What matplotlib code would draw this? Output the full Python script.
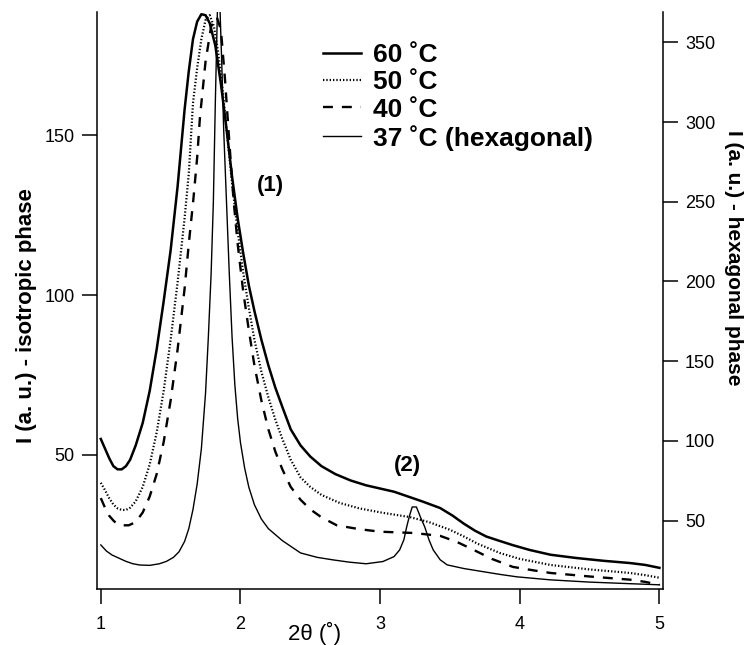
import numpy as np
import matplotlib
matplotlib.use('Agg')
import matplotlib.pyplot as plt

plt.rcParams['font.family'] = ['Liberation Sans', 'DejaVu Sans']

# 60 C, isotropic (left axis)
x60 = [1.00, 1.03, 1.06, 1.09, 1.12, 1.15, 1.18, 1.21, 1.25, 1.30, 1.35, 1.40,
       1.45, 1.50, 1.55, 1.60, 1.63, 1.66, 1.69, 1.72, 1.75, 1.78, 1.82, 1.86,
       1.90, 1.94, 1.98, 2.02, 2.06, 2.10, 2.15, 2.20, 2.25, 2.30, 2.36, 2.43,
       2.50, 2.58, 2.68, 2.79, 2.90, 3.00, 3.10, 3.20, 3.30, 3.43, 3.52, 3.60,
       3.68, 3.76, 3.85, 3.95, 4.07, 4.22, 4.40, 4.60, 4.79, 4.90, 5.00]
y60 = [55, 52, 49, 46.5, 45.5, 45.5, 46.5, 48.5, 53, 60, 70, 83,
       98, 114, 134, 158, 170, 180, 185.5, 187.8, 187.5, 185, 178, 166,
       152, 137, 124, 113, 103, 95, 86, 78, 71, 65, 58, 53,
       49.5, 46.5, 44, 42, 40.5, 39.5, 38.5, 37, 35.5, 33.4, 31, 28.5,
       26.3, 24.5, 23.2, 21.8, 20.3, 18.8, 17.8, 16.9, 16.2, 15.6, 14.7]

# 50 C, isotropic (left axis)
x50 = [1.00, 1.03, 1.06, 1.09, 1.12, 1.15, 1.18, 1.21, 1.25, 1.30, 1.35, 1.40,
       1.45, 1.50, 1.55, 1.60, 1.63, 1.66, 1.69, 1.72, 1.75, 1.78, 1.81, 1.84,
       1.87, 1.90, 1.94, 1.98, 2.02, 2.06, 2.10, 2.15, 2.20, 2.25, 2.30, 2.36,
       2.43, 2.50, 2.58, 2.71, 2.85, 3.02, 3.21, 3.35, 3.50, 3.60, 3.70, 3.86,
       4.00, 4.22, 4.50, 4.79, 4.90, 5.00]
y50 = [41.3, 39, 36.5, 34.5, 33.3, 32.8, 32.8, 33.5, 35.5, 40, 47, 57,
       70, 86, 104, 124, 138, 160, 171, 180, 186, 187.5, 184, 176,
       165, 152, 135, 120, 107, 96, 86, 76, 68, 61, 55, 48.5,
       43, 40, 37.5, 35, 33.3, 31.9, 30.6, 29, 26.6, 24.5, 22.2, 19.3,
       17.5, 15.6, 14.2, 13.1, 12.4, 11.6]

# 40 C, isotropic (left axis)
x40 = [1.00, 1.03, 1.06, 1.09, 1.12, 1.15, 1.20, 1.25, 1.30, 1.35, 1.40, 1.45,
       1.50, 1.55, 1.60, 1.63, 1.663, 1.69, 1.71, 1.75, 1.79, 1.83, 1.86, 1.89,
       1.92, 1.95, 1.98, 2.02, 2.06, 2.10, 2.15, 2.20, 2.25, 2.30, 2.36, 2.43,
       2.50, 2.58, 2.69, 2.85, 3.00, 3.24, 3.43, 3.55, 3.67, 3.80, 3.95, 4.10,
       4.22, 4.50, 4.79, 4.90, 5.00]
y40 = [36.5, 33.5, 31, 29.5, 28.3, 28, 28, 29, 32, 37, 44, 54,
       67, 83, 102, 116, 130, 143, 155.6, 173, 184, 187, 183, 167,
       148, 130, 116, 101, 89, 78, 67, 58, 51, 45.5, 40, 36,
       33, 30.5, 28, 26.8, 26, 25.6, 24.7, 22.8, 20.3, 17.5, 15, 13.9,
       13.1, 12, 11, 10.3, 9.4]

# 37 C, hexagonal (right axis)
x37 = [1.00, 1.04, 1.08, 1.125, 1.18, 1.23, 1.28, 1.35, 1.42, 1.47, 1.52, 1.56,
       1.60, 1.63, 1.66, 1.69, 1.72, 1.75, 1.77, 1.79, 1.806, 1.82, 1.835, 1.85,
       1.865, 1.88, 1.90, 1.92, 1.94, 1.96, 1.98, 2.00, 2.03, 2.06, 2.10, 2.15,
       2.20, 2.30, 2.43, 2.55, 2.665, 2.78, 2.90, 3.02, 3.10, 3.14, 3.17, 3.19,
       3.21, 3.23, 3.26, 3.29, 3.32, 3.35, 3.38, 3.43, 3.48, 3.60, 3.74, 3.86,
       3.98, 4.22, 4.50, 4.79, 5.00]
y37 = [34.8, 31, 28.5, 26.7, 24.5, 23, 22.2, 22, 23, 24.5, 27, 30.5,
       37, 45, 57, 73, 95, 130, 165, 205, 250, 312, 370, 380,
       340, 295, 250, 205, 165, 135, 114, 99, 83, 71, 60, 51,
       45, 37.5, 29.8, 27, 25.4, 24, 23, 24.4, 27.5, 31.7, 38, 46,
       53, 58.6, 58.6, 52, 46, 38, 31.7, 25.5, 22.3, 20, 18, 16.3,
       14.8, 12.9, 11.5, 10.5, 9.8]

x_ticks = [1, 2, 3, 4, 5]
left_ticks = [50, 100, 150]
right_ticks = [50, 100, 150, 200, 250, 300, 350]

fig = plt.figure(figsize=(7.5, 6.45), dpi=100)
ax = fig.add_axes([0.129, 0.0864, 0.7547, 0.895])
ax2 = ax.twinx()

l60, = ax.plot(x60, y60, color='black', lw=1.8, ls='-')
l50, = ax.plot(x50, y50, color='black', lw=1.6, ls=(0, (0.6, 0.9)))
l40, = ax.plot(x40, y40, color='black', lw=1.7, ls=(0, (4.2, 3.8)))
l37, = ax2.plot(x37, y37, color='black', lw=1.0, ls='-')

ax.set_xlim(0.971, 5.024)
ax.set_ylim(8, 188.5)
ax2.set_ylim(7, 369)

ax.set_xticks(x_ticks)
ax.set_yticks(left_ticks)
ax2.set_yticks(right_ticks)

for a in (ax, ax2):
    a.spines['top'].set_visible(False)
    for s in a.spines.values():
        s.set_linewidth(1.1)
    a.tick_params(direction='out', length=11, width=1.1, labelsize=13, pad=5)
ax.tick_params(axis='x', pad=8)
ax.spines['right'].set_visible(False)
ax2.spines['left'].set_visible(False)
ax2.spines['bottom'].set_visible(False)

fig.text(27 / 750, 1 - 316 / 645, 'I (a. u.) - isotropic phase', rotation=90,
         ha='center', va='center', fontsize=16, fontweight='bold')
fig.text(733 / 750, 1 - 258 / 645, 'I (a. u.) - hexagonal phase', rotation=270,
         ha='center', va='center', fontsize=15, fontweight='bold')
fig.text(315 / 750, 1 - 633 / 645, '2θ (˚)', ha='center', va='center',
         fontsize=16)

fig.text(270 / 750, 1 - 186 / 645, '(1)', ha='center', va='center',
         fontsize=16, fontweight='bold')
fig.text(407 / 750, 1 - 466 / 645, '(2)', ha='center', va='center',
         fontsize=16, fontweight='bold')

leg = fig.legend([l60, l50, l40, l37],
                 ['60 ˚C', '50 ˚C', '40 ˚C', '37 ˚C (hexagonal)'],
                 loc='upper left', bbox_to_anchor=(310 / 750, 1 - 30 / 645),
                 frameon=False, borderpad=0, handlelength=1.45,
                 handletextpad=0.45, labelspacing=0.12,
                 prop={'size': 19, 'weight': 'bold'})

fig.savefig('out.png', dpi=100)
